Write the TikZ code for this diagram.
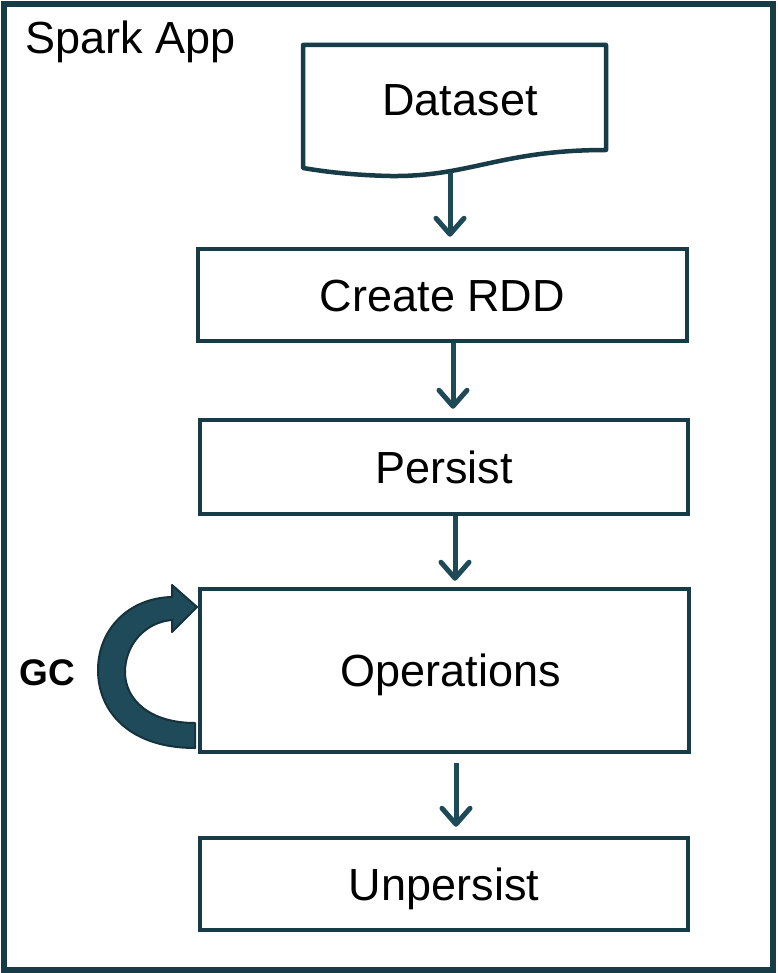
\documentclass[tikz,border=0pt]{standalone}
\usepackage{fontspec}
\setmainfont{Liberation Sans}
\usetikzlibrary{arrows.meta}
\definecolor{edge}{HTML}{173B47}
\definecolor{flow}{HTML}{1E4A57}
\definecolor{gcfill}{HTML}{1F4A5A}
\definecolor{gcline}{HTML}{15323D}
\tikzset{
  stepbox/.style={draw=edge, line width=4.5pt, rectangle, inner sep=0pt,
    font=\fontsize{45}{50}\selectfont, text height=32pt, text depth=0pt},
  txt/.style={inner sep=0pt, font=\fontsize{45}{50}\selectfont, text height=32pt, text depth=0pt},
  flowarrow/.style={draw=flow, line width=5pt,
    -{Straight Barb[length=16pt, width=28pt, line cap=round, line join=round]}}
}
\begin{document}
\begin{tikzpicture}[x=1pt, y=-1pt]
\useasboundingbox (0,0) rectangle (777,973);
\fill[white] (0,0) rectangle (777,973);

% application frame
\draw[edge, line width=5.5pt] (4,4) rectangle (773,970);
\node[anchor=base west, inner sep=0pt, font=\fontsize{45}{50}\selectfont] (title) at (25,54) {Spark App};

% dataset (document shape)
\draw[edge, line width=4.5pt, line join=round]
  (303,45) -- (606,45) -- (606,150)
  .. controls (500,150) and (470,177) .. (390,176)
  .. controls (345,175) and (315,170) .. (303,168) -- cycle;
\node[txt] (ds) at (460,100) {Dataset};
\coordinate (dsout) at (450,172);

% process steps
\node[stepbox, minimum width=489pt, minimum height=92pt] (create) at (442.5,295) {Create RDD};
\node[stepbox, minimum width=488pt, minimum height=94pt] (persist) at (444,467) {Persist};
\node[stepbox, minimum width=489pt, minimum height=163pt] (ops) at (444.5,670.5) {\hspace*{12pt}Operations};
\node[stepbox, minimum width=488pt, minimum height=92pt] (unp) at (444,884) {Unpersist};

% flow arrows
\draw[flowarrow, shorten >=10pt] (dsout) -- (dsout |- create.north);
\draw[flowarrow, shorten >=9pt] ([xshift=10.5pt]create.south) -- ([xshift=10.5pt]create.south |- persist.north);
\draw[flowarrow, shorten >=6pt] ([xshift=11pt]persist.south) -- ([xshift=11pt]persist.south |- ops.north);
\draw[flowarrow, shorten <=9pt, shorten >=9pt] ([xshift=11.5pt]ops.south) -- ([xshift=11.5pt]ops.south |- unp.north);

% garbage collection loop
\filldraw[fill=gcfill, draw=gcline, line width=2pt, line join=round]
  (195,748)
  .. controls (130,748) and (98,712) .. (98,670)
  .. controls (98,630) and (128,598) .. (172,597)
  -- (172,585) -- (197,607) -- (172,632) -- (172,620)
  .. controls (145,622) and (125,645) .. (125,672)
  .. controls (125,700) and (150,723) .. (195,723) -- cycle;
\node[txt, font=\fontsize{37}{40}\selectfont\bfseries, text height=27pt] (gc) at (47.5,672) {GC};
\end{tikzpicture}
\end{document}
